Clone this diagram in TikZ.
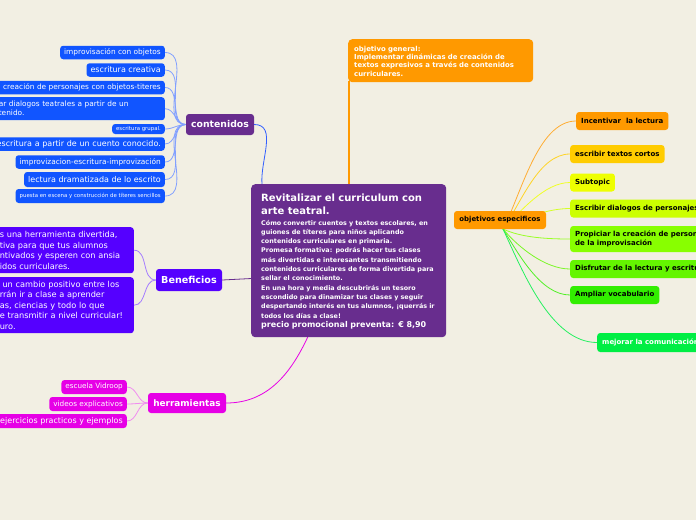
\documentclass[tikz,border=0pt]{standalone}
\usepackage{fontspec}
\setmainfont{DejaVu Sans}
\pgfdeclarelayer{background}
\pgfsetlayers{background,main}
\definecolor{bg}{RGB}{242,239,227}
\definecolor{purp}{RGB}{104,45,142}
\definecolor{cblue}{RGB}{17,85,255}
\definecolor{cbluel}{RGB}{130,160,255}
\definecolor{cline}{RGB}{50,95,255}
\definecolor{bviol}{RGB}{85,0,255}
\definecolor{bvioll}{RGB}{165,125,255}
\definecolor{hmag}{RGB}{230,0,230}
\definecolor{hmagl}{RGB}{240,140,240}
\definecolor{orng}{RGB}{255,153,0}
\definecolor{rA}{RGB}{255,153,0}
\definecolor{rB}{RGB}{255,204,0}
\definecolor{rC}{RGB}{238,255,0}
\definecolor{rD}{RGB}{204,255,0}
\definecolor{rE}{RGB}{136,255,0}
\definecolor{rF}{RGB}{100,245,0}
\definecolor{rG}{RGB}{50,238,0}
\definecolor{rH}{RGB}{0,238,68}
\begin{document}
\begin{tikzpicture}[x=1pt,y=-1pt,
  bx/.style={rounded corners=3pt, inner xsep=4pt, inner ysep=0pt, text=white},
  lc/.style={bx, fill=cblue, anchor=east, minimum height=13.5},
  rc/.style={rounded corners=3pt, inner xsep=5pt, inner ysep=0pt, text=black, anchor=west, minimum height=18, font=\fontsize{7}{8.5}\selectfont\bfseries},
  hc/.style={bx, fill=hmag, anchor=east, minimum height=14},
  bc/.style={bx, fill=bviol, anchor=north east, align=left, text width=130, font=\fontsize{8.2}{10.5}\selectfont},
  lbl/.style={rounded corners=3pt, inner sep=0pt, text=white, font=\fontsize{9.3}{11}\selectfont\bfseries},
  conn/.style={line width=0.8pt},
  f74/.style={font=\fontsize{7.4}{9}\selectfont},
  f80/.style={font=\fontsize{8}{9.5}\selectfont},
  f54/.style={font=\fontsize{5.4}{6.5}\selectfont}
]
\useasboundingbox (0,0) rectangle (696,520);
\clip (0,0) rectangle (696,520);

% central node
\node[fill=purp, rounded corners=4pt, anchor=north west, minimum width=195, minimum height=153, inner sep=0pt] (cen) at (251,184) {};
\node[anchor=base west, text width=185, align=left, inner sep=0pt, text=white, font=\fontsize{10}{12.6}\selectfont\bfseries] (ctitle) at (261,201.7) {Revitalizar el curriculum con\\arte teatral.};
\node[anchor=base west, text width=185, align=left, inner sep=0pt, text=white, font=\fontsize{6.4}{9.33}\selectfont\bfseries] (cbody) at (261,225) {Cómo convertir cuentos y textos escolares, en\\guiones de títeres para niños aplicando\\contenidos curriculares en primaria.\\Promesa formativa: podrás hacer tus clases\\más divertidas e interesantes transmitiendo\\contenidos curriculares de forma divertida para\\sellar el conocimiento.\\En una hora y media descubrirás un tesoro\\escondido para dinamizar tus clases y seguir\\despertando interés en tus alumnos, ¡querrás ir\\todos los días a clase!};
\node[anchor=base west, text width=185, align=left, inner sep=0pt, text=white, font=\fontsize{8}{10}\selectfont\bfseries] (cprice) at (261,327.7) {precio promocional preventa: € 8,90};

% objetivo general
\node[fill=orng, rounded corners=4pt, anchor=north west, minimum width=185, minimum height=43, inner sep=0pt] (og) at (348,39) {};
\node[anchor=base west, text width=175, align=left, inner sep=0pt, text=white, font=\fontsize{6.9}{8.3}\selectfont\bfseries] (ogt) at (354,51.3) {objetivo general:\\Implementar dinámicas de creación de\\textos expresivos a través de contenidos\\curriculares.};

% main labels
\node[lbl, fill=purp, minimum width=68, minimum height=21] (cont) at (220,124.5) {contenidos};
\node[lbl, fill=bviol, minimum width=66, minimum height=22, font=\fontsize{9.6}{11}\selectfont\bfseries] (ben) at (189,280) {Beneficios};
\node[lbl, fill=hmag, minimum width=78, minimum height=20, font=\fontsize{8.9}{11}\selectfont\bfseries] (herr) at (187,403) {herramientas};
\node[rounded corners=3pt, fill=orng, minimum width=92, minimum height=18, inner sep=0pt, font=\fontsize{6.9}{8}\selectfont\bfseries] (oe) at (500,220) {objetivos especificos};

% contenidos children
\node[lc, f74] (c1) at (165,52.5) {improvisación con objetos};
\node[lc, f80] (c2) at (165,70) {escritura creativa};
\node[lc, f74, text width=166, align=right] (c3) at (165,87.5) {creación de personajes con objetos-titeres};
\node[bx, fill=cblue, f74, anchor=north east, minimum height=23, text width=162, align=left] (c4) at (165,97) {ar dialogos teatrales a partir de un\\tenido.};
\node[lc, f54, minimum height=10] (c5) at (165,129) {escritura grupal.};
\node[lc, f80, text width=166, align=right] (c6) at (165,144) {escritura a partir de un cuento conocido.};
\node[lc, f74] (c7) at (165,162) {improvizacion-escritura-improvización};
\node[lc, f80, minimum height=15] (c8) at (165,179.5) {lectura dramatizada de lo escrito};
\node[lc, f54, minimum height=14] (c9) at (165,196) {puesta en escena y construcción de títeres sencillos};

% beneficios children
\node[bc, minimum height=46] (b1) at (134,227) {s una herramienta divertida,\\tiva para que tus alumnos\\ntivados y esperen con ansia\\idos curriculares.};
\node[bc, minimum height=56] (b2) at (134,277) {\ un cambio positivo entre los\\rrán ir a clase a aprender\\as, ciencias y todo lo que\\e transmitir a nivel curricular!\\uro.};

% herramientas children
\node[hc, font=\fontsize{7.2}{8.5}\selectfont] (h1) at (127,387) {escuela Vidroop};
\node[hc, font=\fontsize{7.3}{8.5}\selectfont] (h2) at (127,404) {videos explicativos};
\node[hc, f80] (h3) at (127,421) {ejercicios practicos y ejemplos};

% objetivos especificos children
\node[rc, fill=rA] (r1) at (576,121) {Incentivar\ \ la lectura};
\node[rc, fill=rB] (r2) at (570,154) {escribir textos cortos};
\node[rc, fill=rC] (r3) at (570,182.5) {Subtopic};
\node[rc, fill=rD] (r4) at (570,208.5) {Escribir dialogos de personajes};
\node[rc, fill=rE, minimum height=26, align=left] (r5) at (570,239) {Propiciar la creación de personajes a partir\\de la improvisación};
\node[rc, fill=rF] (r6) at (570,269) {Disfrutar de la lectura y escritura};
\node[rc, fill=rG] (r7) at (570,295) {Ampliar vocabulario};
\node[rc, fill=rH, text=white, minimum height=19] (r8) at (597,342.5) {mejorar la comunicación};

\coordinate (oo) at (503,229);
\coordinate (cenTop) at (262,184.5);
\coordinate (cenBot) at (308,336.5);
\coordinate (cenOg) at (349,184.5);
\coordinate (ogBot) at (349,81);
\coordinate (cenL) at (251.5,278.5);

\begin{pgfonlayer}{background}
\fill[bg] (0,0) rectangle (696,520);
% trunk connectors
\draw[conn, cline] (cont.east) to[out=0, in=95] (cenTop);
\draw[conn, purp] (ben.east) -- (cenL);
\draw[conn, hmag] (herr.east) to[out=0, in=-115] (cenBot);
\draw[line width=1.3pt, orng] (cenOg) -- (ogBot);
% contenidos branches
\foreach \n in {c1,c2,c3,c4,c5,c6,c7,c8,c9}
  \draw[conn, cbluel] (cont.west) to[out=180, in=0] (\n.east);
% beneficios branches
\foreach \n in {b1,b2}
  \draw[conn, bvioll] (ben.west) to[out=180, in=0] (\n.east);
% herramientas branches
\foreach \n in {h1,h2,h3}
  \draw[conn, hmagl] (herr.west) to[out=180, in=0] (\n.east);
% objetivos especificos branches
\draw[conn, rA!80!white] (oo) to[out=62, in=180, looseness=0.75] (r1.west);
\draw[conn, rB!85!white] (oo) to[out=55, in=180, looseness=0.8] (r2.west);
\draw[conn, rC!85!white] (oo) to[out=45, in=180, looseness=0.8] (r3.west);
\draw[conn, rD!85!white] (oo) to[out=30, in=180, looseness=0.8] (r4.west);
\draw[conn, rE!85!white] (oo) to[out=-25, in=180, looseness=0.8] (r5.west);
\draw[conn, rF!85!white] (oo) to[out=-50, in=180, looseness=0.8] (r6.west);
\draw[conn, rG!85!white] (oo) to[out=-58, in=180, looseness=0.8] (r7.west);
\draw[conn, rH!85!white] (oo) to[out=-65, in=180, looseness=0.8] (r8.west);
\end{pgfonlayer}
\end{tikzpicture}
\end{document}
